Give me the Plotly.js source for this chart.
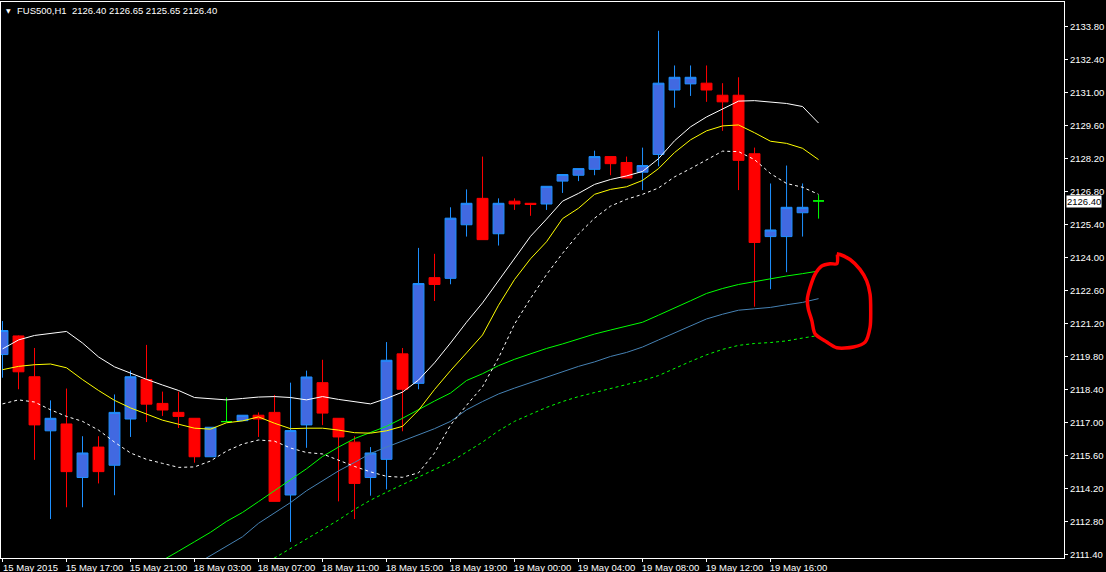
<!DOCTYPE html>
<html><head><meta charset="utf-8">
<script src="https://cdn.plot.ly/plotly-3.0.1.min.js"></script>
<style>html,body{margin:0;padding:0;background:#000;}#chart{width:1106px;height:572px;}</style>
</head><body><div id="chart"></div>
<script>
// ---- data (FUS500, H1) ----
const symbolTitle = "FUS500,H1\u00A0 2126.40 2126.65 2125.65 2126.40";
const lastPrice = 2126.40;
const tickIndex = [0,4,8,12,16,20,24,28,32,36,40,44,48];
const tickText = ["15 May 2015","15 May 17:00","15 May 21:00","18 May 03:00","18 May 07:00","18 May 11:00","18 May 15:00","18 May 19:00","19 May 00:00","19 May 04:00","19 May 08:00","19 May 12:00","19 May 16:00"];

const openP  = [2119.89,2120.68,2118.95,2116.66,2116.95,2114.68,2115.97,2115.20,2117.16,2118.83,2117.82,2117.44,2117.19,2115.56,2117.05,2117.09,2117.32,2117.44,2113.94,2116.91,2118.70,2117.19,2116.18,2114.68,2115.45,2119.92,2118.67,2123.15,2123.12,2125.39,2126.51,2125.01,2126.39,2126.30,2126.27,2127.24,2127.49,2127.74,2128.28,2128.03,2127.62,2128.37,2131.10,2131.36,2131.39,2130.88,2130.88,2128.40,2124.89,2124.89,2125.90,2126.40];
const highP  = [2121.31,2120.70,2120.17,2117.95,2118.45,2116.43,2116.43,2118.20,2119.21,2120.30,2118.32,2118.32,2117.19,2116.81,2118.07,2117.32,2117.44,2118.18,2118.70,2119.21,2119.67,2117.19,2116.43,2115.97,2120.42,2120.17,2124.41,2124.16,2126.13,2126.89,2128.28,2126.51,2126.51,2126.30,2127.02,2127.52,2127.77,2128.53,2128.28,2128.28,2128.66,2133.61,2132.14,2132.14,2132.14,2131.39,2131.64,2128.66,2127.14,2127.90,2127.14,2126.65];
const lowP   = [2118.91,2118.42,2115.43,2112.92,2113.42,2113.42,2114.43,2113.93,2116.40,2117.03,2117.29,2116.78,2115.31,2115.56,2117.05,2117.09,2116.40,2113.67,2111.95,2115.94,2116.90,2113.67,2112.92,2113.91,2114.18,2116.64,2118.42,2122.16,2122.87,2124.89,2124.76,2124.51,2126.02,2125.77,2126.02,2126.74,2127.24,2127.49,2127.49,2127.37,2126.86,2127.87,2130.35,2130.85,2130.60,2129.37,2126.86,2121.92,2122.66,2123.38,2124.89,2125.65];
const closeP = [2120.91,2119.16,2116.91,2117.19,2114.93,2115.72,2114.93,2117.44,2118.95,2117.79,2117.54,2117.27,2115.56,2116.81,2117.05,2117.32,2117.16,2113.67,2116.67,2118.94,2117.41,2116.40,2114.43,2115.72,2119.65,2118.42,2122.90,2122.86,2125.67,2126.30,2124.76,2126.30,2126.27,2126.25,2127.02,2127.52,2127.77,2128.28,2127.98,2127.37,2127.90,2131.39,2131.64,2131.64,2131.10,2130.60,2128.12,2124.64,2125.17,2126.13,2126.13,2126.40];

// fast channel (upper / middle / lower)
const fastUpper = [2120.13,2120.51,2120.70,2120.77,2120.87,2120.38,2119.79,2119.37,2119.09,2118.84,2118.60,2118.37,2118.07,2118.02,2117.97,2118.03,2118.09,2118.11,2118.07,2117.97,2118.11,2117.99,2117.90,2117.80,2118.03,2118.30,2118.81,2119.54,2120.38,2121.26,2122.08,2123.01,2123.97,2124.90,2125.63,2126.39,2126.72,2127.10,2127.31,2127.46,2127.65,2128.19,2128.95,2129.54,2129.96,2130.29,2130.63,2130.65,2130.59,2130.53,2130.40,2129.70];
const fastMiddle = [2119.25,2119.39,2119.46,2119.49,2119.33,2118.83,2118.37,2117.95,2117.63,2117.38,2117.11,2116.94,2116.77,2116.73,2117.00,2117.08,2117.25,2116.98,2116.75,2116.77,2116.77,2116.69,2116.58,2116.56,2116.66,2116.85,2117.53,2118.41,2119.21,2119.96,2120.72,2121.98,2123.07,2123.95,2124.67,2125.65,2126.09,2126.68,2126.89,2127.00,2127.27,2127.77,2128.45,2128.99,2129.37,2129.58,2129.62,2129.29,2128.93,2128.84,2128.63,2128.15];
const fastLower = [2117.80,2117.97,2117.88,2117.55,2117.27,2117.06,2116.69,2116.18,2115.72,2115.45,2115.28,2115.11,2115.13,2115.38,2115.80,2116.10,2116.27,2116.22,2115.93,2115.74,2115.68,2115.40,2115.15,2114.92,2114.73,2114.69,2114.88,2115.72,2116.90,2117.74,2118.53,2119.75,2121.18,2122.27,2123.28,2124.18,2125.00,2125.67,2126.18,2126.47,2126.68,2126.95,2127.42,2127.77,2128.15,2128.51,2128.49,2128.15,2127.56,2127.14,2126.98,2126.68];
// slow channel (upper / middle / lower)
const slowUpper = [null,null,null,null,null,null,null,null,null,2110.78,2111.16,2111.56,2111.96,2112.36,2112.82,2113.20,2113.66,2114.12,2114.59,2115.05,2115.57,2115.97,2116.33,2116.60,2116.85,2117.19,2117.57,2117.92,2118.26,2118.79,2119.08,2119.42,2119.69,2119.92,2120.15,2120.34,2120.55,2120.76,2120.93,2121.10,2121.26,2121.56,2121.85,2122.17,2122.48,2122.69,2122.86,2122.99,2123.11,2123.22,2123.32,2123.43];
const slowMiddle = [null,null,null,null,null,null,null,null,null,null,null,2110.57,2110.97,2111.37,2111.77,2112.17,2112.74,2113.18,2113.62,2114.12,2114.54,2114.96,2115.32,2115.70,2115.97,2116.24,2116.48,2116.75,2117.06,2117.55,2117.90,2118.22,2118.47,2118.70,2118.93,2119.18,2119.39,2119.58,2119.81,2119.98,2120.21,2120.51,2120.80,2121.10,2121.40,2121.60,2121.77,2121.83,2121.89,2122.00,2122.10,2122.26];
const slowLower = [null,null,null,null,null,null,null,null,null,null,null,null,null,null,null,null,2110.87,2111.27,2111.67,2112.07,2112.46,2112.88,2113.33,2113.72,2114.06,2114.38,2114.71,2115.05,2115.34,2115.76,2116.18,2116.66,2117.06,2117.36,2117.65,2117.90,2118.11,2118.28,2118.45,2118.64,2118.79,2119.00,2119.31,2119.60,2119.88,2120.11,2120.28,2120.36,2120.40,2120.47,2120.59,2120.70];

// hand-drawn red circle (bar index, price)
const circleX = [52.14,52.34,52.97,53.59,54.01,54.22,54.26,54.22,53.91,53.18,52.14,51.51,50.78,50.58,50.36,50.30,50.47,50.78,51.20,51.72,52.14,52.18];
const circleY = [2124.16,2124.13,2123.92,2123.50,2123.01,2122.45,2121.75,2121.05,2120.42,2120.21,2120.18,2120.42,2120.77,2121.33,2121.82,2122.24,2122.73,2123.29,2123.64,2123.74,2123.74,2124.13];

// ---- build traces ----
const idx = openP.map((_, i) => i);
function subset(filter) {
  const s = {x: [], open: [], high: [], low: [], close: []};
  idx.forEach(i => {
    if (filter(openP[i], closeP[i])) {
      s.x.push(i); s.open.push(openP[i]); s.high.push(highP[i]); s.low.push(lowP[i]); s.close.push(closeP[i]);
    }
  });
  return s;
}
function candleTrace(s, lineColor, fillColor) {
  return Object.assign({
    type: 'candlestick', whiskerwidth: 0, hoverinfo: 'skip',
    increasing: {line: {color: lineColor, width: 1}, fillcolor: fillColor},
    decreasing: {line: {color: lineColor, width: 1}, fillcolor: fillColor}
  }, s);
}
const bull = subset((o, c) => c > o);
const bear = subset((o, c) => c < o);
const doji = subset((o, c) => c === o);

function lineTrace(y, color, dash) {
  return {type: 'scatter', mode: 'lines', x: idx, y: y, hoverinfo: 'skip',
          line: {color: color, width: 1, dash: dash || 'solid'}, connectgaps: false};
}

const traces = [
  candleTrace(bull, '#1e90ff', '#4169e1'),
  candleTrace(bear, '#ff0000', '#ff0000'),
  candleTrace(doji, '#00ff00', '#00ff00'),
  lineTrace(slowUpper, '#00ff00'),
  lineTrace(slowMiddle, '#4682b4'),
  lineTrace(slowLower, '#00ff00', '3px,3px'),
  lineTrace(fastUpper, '#ffffff'),
  lineTrace(fastMiddle, '#ffff00'),
  lineTrace(fastLower, '#ffffff', '3px,3px'),
  {type: 'scatter', mode: 'lines', x: circleX, y: circleY, hoverinfo: 'skip',
   line: {color: '#ff0000', width: 3.5, shape: 'spline', smoothing: 0.8}}
];

const font = 'Liberation Sans, Arial, sans-serif';
const layout = {
  width: 1106, height: 572,
  paper_bgcolor: '#000000', plot_bgcolor: '#000000',
  margin: {l: 1, r: 42, t: 2, b: 14, pad: 0},
  showlegend: false, hovermode: false,
  boxgap: 0.32, boxgroupgap: 0,
  font: {family: font, size: 9.5, color: '#ffffff'},
  xaxis: {
    range: [-0.094, 66.34], tickvals: tickIndex, ticktext: tickText,
    showgrid: false, zeroline: false, showline: true, mirror: true,
    linecolor: '#ffffff', linewidth: 1, ticks: 'outside', ticklen: 3, tickcolor: '#ffffff',
    ticklabelshift: 28, ticklabelstandoff: -2, rangeslider: {visible: false}, fixedrange: true,
    tickfont: {family: font, size: 9.5, color: '#ffffff'}
  },
  yaxis: {
    side: 'right', range: [2111.27, 2134.83], tick0: 2111.40, dtick: 1.4, tickformat: '.2f',
    showgrid: false, zeroline: false, showline: true, mirror: true,
    linecolor: '#ffffff', linewidth: 1, ticks: 'outside', ticklen: 3, tickcolor: '#ffffff',
    fixedrange: true, tickfont: {family: font, size: 9.5, color: '#ffffff'}
  },
  annotations: [
    {xref: 'paper', yref: 'paper', x: 0, y: 1, xanchor: 'left', yanchor: 'top', xshift: 3, yshift: -3,
     text: '\u25BC', showarrow: false, font: {family: 'DejaVu Sans', size: 6, color: '#ffffff'}},
    {xref: 'paper', yref: 'paper', x: 0, y: 1, xanchor: 'left', yanchor: 'top', xshift: 14, yshift: -1,
     text: symbolTitle, showarrow: false, font: {family: font, size: 9.5, color: '#ffffff'}},
    {xref: 'paper', yref: 'y', x: 1, y: lastPrice, xanchor: 'left', yanchor: 'middle', xshift: 2, yshift: -1,
     text: lastPrice.toFixed(2), showarrow: false, bgcolor: '#ffffff', borderpad: 0,
     font: {family: font, size: 9.5, color: '#000000'}}
  ]
};

Plotly.newPlot('chart', traces, layout, {displayModeBar: false, staticPlot: true});
</script>
</body></html>
